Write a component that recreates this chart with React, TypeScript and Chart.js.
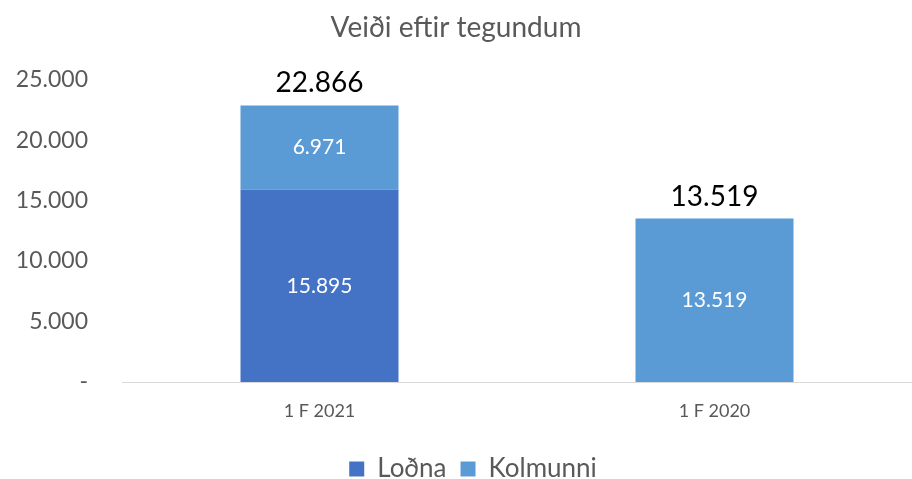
import React, { useEffect, useRef } from "react";
import { Chart, registerables } from "chart.js";

Chart.register(...registerables);

const categories = ["1 F 2021", "1 F 2020"];
const lodna = [15895, 0];
const kolmunni = [6971, 13519];
const yTicks = [0, 5000, 10000, 15000, 20000, 25000];

const FONT = "Lato, 'Open Sans', sans-serif";

function fmt(v: number): string {
  if (v === 0) return "-";
  const s = Math.round(v).toString();
  return s.replace(/\B(?=(\d{3})+(?!\d))/g, ".");
}

const labelPlugin = {
  id: "valueLabels",
  afterLayout(chart: any) {
    if (chart.legend) {
      chart.legend.left += 17;
      chart.legend.right += 17;
    }
  },
  afterDatasetsDraw(chart: any) {
    const ctx = chart.ctx;
    ctx.save();
    ctx.textAlign = "center";
    ctx.textBaseline = "middle";
    ctx.fillStyle = "#ffffff";
    ctx.font = `21px ${FONT}`;
    chart.data.datasets.forEach((ds: any, di: number) => {
      const meta = chart.getDatasetMeta(di);
      meta.data.forEach((bar: any, i: number) => {
        const v = ds.data[i];
        if (!v) return;
        const cy = (bar.y + bar.base) / 2;
        ctx.fillText(fmt(v), bar.x, cy);
      });
    });
    ctx.fillStyle = "#000000";
    ctx.font = `28px ${FONT}`;
    ctx.textBaseline = "bottom";
    categories.forEach((_, i) => {
      const total = chart.data.datasets.reduce((a: number, ds: any) => a + (ds.data[i] || 0), 0);
      const y = chart.scales.y.getPixelForValue(total);
      ctx.fillText(fmt(total), chart.scales.x.getPixelForValue(i), y - 8);
    });
    ctx.restore();
  },
};

export default function App() {
  const ref = useRef<HTMLCanvasElement | null>(null);
  useEffect(() => {
    document.body.style.margin = "0";
    const canvas = ref.current!;
    const chart = new Chart(canvas, {
      type: "bar",
      data: {
        labels: categories,
        datasets: [
          { label: "Loðna", data: lodna, backgroundColor: "#4472C4", stack: "s" },
          { label: "Kolmunni", data: kolmunni, backgroundColor: "#5B9BD5", stack: "s" },
        ],
      },
      options: {
        animation: false,
        responsive: false,
        maintainAspectRatio: false,
        layout: { padding: { top: 0, left: 0, right: 0, bottom: -13 } },
        datasets: { bar: { barPercentage: 0.8, categoryPercentage: 0.5 } },
        plugins: {
          title: {
            display: true,
            text: "Veiði eftir tegundum",
            color: "#595959",
            font: { family: FONT, size: 28, weight: "normal" },
            padding: { top: 11, bottom: 35 },
          },
          legend: {
            position: "bottom",
            labels: {
              color: "#595959",
              font: { family: FONT, size: 26 },
              boxWidth: 15,
              boxHeight: 15,
              padding: 14,
            },
          },
          tooltip: { enabled: false },
        },
        scales: {
          x: {
            stacked: true,
            afterFit: (scale: any) => {
              scale.height = 60;
            },
            grid: { display: false, drawTicks: false },
            border: { display: true, color: "#D9D9D9", width: 1 },
            ticks: { color: "#595959", font: { family: FONT, size: 18 }, padding: 18 },
          },
          y: {
            stacked: true,
            min: 0,
            max: 25000,
            afterBuildTicks: (scale: any) => {
              scale.ticks = yTicks.map((v) => ({ value: v }));
            },
            afterFit: (scale: any) => {
              scale.width = 122;
            },
            grid: { display: false, drawTicks: false },
            border: { display: false },
            ticks: {
              color: "#595959",
              font: { family: FONT, size: 23 },
              padding: 34,
              callback: (v: any) => fmt(Number(v)),
            },
          },
        },
      },
      plugins: [labelPlugin],
    });
    return () => chart.destroy();
  }, []);
  return <canvas ref={ref} width={912} height={479} style={{ display: "block" }} />;
}
